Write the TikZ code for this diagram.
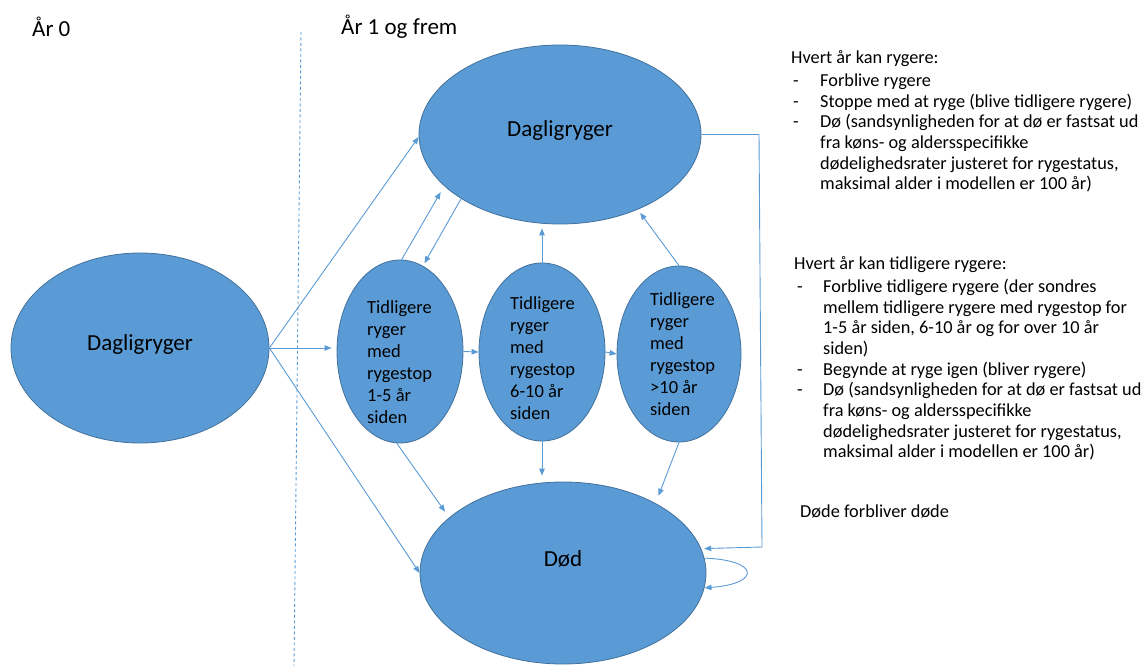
\documentclass[tikz,border=0pt]{standalone}
\usepackage{fontspec}
\setmainfont{Carlito}
\usetikzlibrary{shapes.geometric,arrows.meta}
\definecolor{fillblue}{HTML}{5B9BD5}
\definecolor{edgeblue}{HTML}{41719C}
\definecolor{lineblue}{HTML}{5B9BD5}
\begin{document}
\begin{tikzpicture}[x=1pt,y=-1pt,
  st/.style={ellipse, draw=edgeblue, line width=0.8pt, fill=fillblue, inner sep=0pt},
  big/.style={st, font=\fontsize{23}{27}\selectfont},
  smalltxt/.style={font=\fontsize{18.5}{22}\selectfont, align=left, inner sep=0pt, anchor=north west},
  arr/.style={draw=lineblue, line width=0.9pt, -{Triangle[length=7pt,width=5.5pt]}},
  note/.style={font=\fontsize{18.3}{20.7}\selectfont, align=left, inner sep=0pt, anchor=north west},
  head/.style={font=\fontsize{23}{27}\selectfont, inner sep=0pt, anchor=base west}]
\useasboundingbox (0,0) rectangle (1147,666);

% headings and divider
\node[head] (H0) at (32,37) {År 0};
\node[head] (H1) at (341,35) {År 1 og frem};
\coordinate (d1) at (301,32);
\coordinate (d2) at (294,666);
\draw[lineblue, line width=0.9pt, dash pattern=on 3pt off 2.5pt] (d1) -- (d2);

% states
\node[big, minimum width=258pt, minimum height=190pt, text height=10pt, text depth=6pt] (L) at (140,348) {Dagligryger};
\node[big, minimum width=282pt, minimum height=179pt, text height=10pt, text depth=7pt] (Dag) at (560,134.5) {Dagligryger};
\node[big, minimum width=286pt, minimum height=182pt, text height=2pt, text depth=14.6pt] (D) at (563,573) {Død};
\node[st, minimum width=126pt, minimum height=183pt] (E1) at (400,351.5) {};
\node[st, minimum width=126pt, minimum height=178pt] (E2) at (542,352) {};
\node[st, minimum width=124pt, minimum height=176pt] (E3) at (679,354) {};
\node[smalltxt] (T1) at (367,300) {Tidligere\\ryger\\med\\rygestop\\1-5 år\\siden};
\node[smalltxt] (T2) at (510,296.7) {Tidligere\\ryger\\med\\rygestop\\6-10 år\\siden};
\node[smalltxt] (T3) at (650,292) {Tidligere\\ryger\\med\\rygestop\\>10 år\\siden};

% transitions
\draw[arr] (L.east) -- (Dag.181);
\draw[arr, shorten >=5pt] (L.east) -- (L.east -| E1.west);
\draw[arr] (L.east) -- (D.west);
\draw[arr, shorten >=7pt] (E1.89) -- (Dag.204.5);
\draw[arr, shorten >=3pt] (Dag.213) -- (E1.75);
\draw[arr, shorten >=7pt] (E1.268) -- (D.154);
\draw[arr] (E1.east) -- (E2.west);
\draw[arr] (E2.east) -- (E3.west);
\draw[arr, shorten >=4pt] (E2.north) -- (E2.north |- Dag.south);
\draw[arr, shorten >=4pt] (E3.north) -- (Dag.316.7);
\draw[arr, shorten >=6pt] (E2.south) -- (E2.south |- D.north);
\draw[arr, shorten >=8pt] (E3.south) -- (D.37.8);
\coordinate (c1) at (759,134.5);
\coordinate (c2) at (762,547);
\draw[arr, shorten >=3pt] (Dag.east) -- (c1) -- (c2) -- (D.10.7);
\draw[arr] (D.6) .. controls +(56,2) and +(56,-4) .. (D.-6);

% notes
\node[note] (N1) at (791,50) {Hvert år kan rygere:\\[2.5pt]
\hspace*{2pt}\makebox[27pt][l]{-}Forblive rygere\\
\hspace*{2pt}\makebox[27pt][l]{-}Stoppe med at ryge (blive tidligere rygere)\\
\hspace*{2pt}\makebox[27pt][l]{-}Dø (sandsynligheden for at dø er fastsat ud\\
\hspace*{29pt}fra køns- og aldersspecifikke\\
\hspace*{29pt}dødelighedsrater justeret for rygestatus,\\
\hspace*{29pt}maksimal alder i modellen er 100 år)};
\node[note] (N2) at (794,256) {Hvert år kan tidligere rygere:\\[2.5pt]
\hspace*{3pt}\makebox[26pt][l]{-}Forblive tidligere rygere (der sondres\\
\hspace*{29pt}mellem tidligere rygere med rygestop for\\
\hspace*{29pt}1-5 år siden, 6-10 år og for over 10 år\\
\hspace*{29pt}siden)\\
\hspace*{3pt}\makebox[26pt][l]{-}Begynde at ryge igen (bliver rygere)\\
\hspace*{3pt}\makebox[26pt][l]{-}Dø (sandsynligheden for at dø er fastsat ud\\
\hspace*{29pt}fra køns- og aldersspecifikke\\
\hspace*{29pt}dødelighedsrater justeret for rygestatus,\\
\hspace*{29pt}maksimal alder i modellen er 100 år)};
\node[note, anchor=base west] (N3) at (800,517) {Døde forbliver døde};
\end{tikzpicture}
\end{document}
